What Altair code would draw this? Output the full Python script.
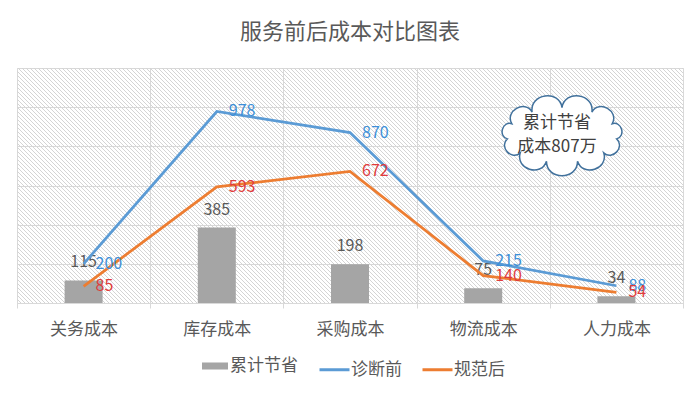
import altair as alt
import pandas as pd
import numpy as np

# ---- data ----
categories = ["关务成本", "库存成本", "采购成本", "物流成本", "人力成本"]
saved = [115, 385, 198, 75, 34]        # 累计节省
before = [200, 978, 870, 215, 88]      # 诊断前
after = [85, 593, 672, 140, 54]        # 规范后
note_lines = ["累计节省", "成本807万"]

FONT = "Noto Sans CJK SC"
GRID = "#d9d9d9"
TXT = "#595959"
W, H = 666, 235

bar_df = pd.DataFrame({"cat": categories, "value": saved, "series": "累计节省"})
before_df = pd.DataFrame({"cat": categories, "value": before, "series": "诊断前"})
after_df = pd.DataFrame({"cat": categories, "value": after, "series": "规范后"})
line_df = pd.concat([before_df, after_df], ignore_index=True)

x_enc = alt.X(
    "cat:N", sort=categories,
    scale=alt.Scale(paddingInner=0, paddingOuter=0),
    axis=alt.Axis(title=None, labelAngle=0, labelFontSize=17, labelColor=TXT,
                  labelFont=FONT, tickBand="extent", ticks=True, tickSize=5,
                  tickColor=GRID, domainColor=GRID, grid=True, gridColor=GRID,
                  labelPadding=13),
)
y_enc = alt.Y(
    "value:Q",
    scale=alt.Scale(domain=[0, 1200], nice=False),
    axis=alt.Axis(title=None, labels=False, ticks=False, domain=False,
                  values=[0, 200, 400, 600, 800, 1000, 1200], gridColor=GRID),
)

LEG_Y = 285
bars = alt.Chart(bar_df).mark_bar(size=38).encode(
    x=x_enc, y=y_enc,
    color=alt.Color("series:N",
                    scale=alt.Scale(domain=["累计节省"], range=["#a5a5a5"]),
                    legend=alt.Legend(title=None, orient="none", legendX=185, legendY=LEG_Y,
                                      symbolType="M-1,-0.27H1V0.27H-1Z", symbolSize=676,
                                      symbolStrokeWidth=0, labelFontSize=17, labelFont=FONT,
                                      labelColor=TXT, labelOffset=2, padding=0)),
)
bar_text = alt.Chart(bar_df).mark_text(dy=-13, baseline="alphabetic", fontSize=16,
                                       color=TXT, font=FONT).encode(
    x=x_enc, y=y_enc, text="value:Q")

lines = alt.Chart(line_df).mark_line(strokeWidth=2.75).encode(
    x=x_enc, y=y_enc,
    color=alt.Color("series:N",
                    scale=alt.Scale(domain=["诊断前", "规范后"], range=["#5b9bd5", "#ed7d31"]),
                    legend=alt.Legend(title=None, orient="none", legendX=301, legendY=LEG_Y,
                                      direction="horizontal", symbolType="stroke",
                                      symbolSize=900, symbolStrokeWidth=3, columnPadding=14,
                                      labelFontSize=17, labelFont=FONT, labelColor=TXT,
                                      labelOffset=0, padding=0)),
)
before_text = alt.Chart(before_df).mark_text(align="left", dx=12, baseline="middle",
                                             fontSize=16, color="#3d8fd8", font=FONT).encode(
    x=x_enc, y=y_enc, text="value:Q")
after_text = alt.Chart(after_df).mark_text(align="left", dx=12, baseline="middle",
                                           fontSize=16, color="#e03c3c", font=FONT).encode(
    x=x_enc, y=y_enc, text="value:Q")

# ---- cloud callout shape (decorative path) ----
n = 11
ang = np.linspace(0, 2 * np.pi, n, endpoint=False) - np.pi / 2
px = 0.85 * np.cos(ang)
py = 0.42 * np.sin(ang)
parts = [f"M{px[0]:.3f},{py[0]:.3f}"]
for i in range(n):
    x1, y1 = px[i], py[i]
    x2, y2 = px[(i + 1) % n], py[(i + 1) % n]
    dx, dy = x2 - x1, y2 - y1
    L = np.hypot(dx, dy)
    nx, ny = dy / L, -dx / L
    mx, my = (x1 + x2) / 2, (y1 + y2) / 2
    if nx * mx + ny * my < 0:
        nx, ny = -nx, -ny
    k = 0.62 * L
    parts.append(f"C{x1 + nx * k:.3f},{y1 + ny * k:.3f} {x2 + nx * k:.3f},{y2 + ny * k:.3f} {x2:.3f},{y2:.3f}")
cloud_path = "".join(parts) + "Z"

one = pd.DataFrame({"k": [0]})
cloud = alt.Chart(one).mark_point(shape=cloud_path, size=16900, filled=True, fill="white",
                                  stroke="#41719c", strokeWidth=1.5, opacity=1).encode(
    x=alt.value(545), y=alt.value(67))
note = alt.Chart(one).mark_text(text=note_lines, fontSize=17, color="#404040",
                                lineHeight=24, font=FONT, baseline="middle").encode(
    x=alt.value(540), y=alt.value(55))

# ---- hatch background (decorative) ----
offs = np.arange(-H, W, 4)
hatch_df = pd.DataFrame({"a": offs, "b": offs + H, "t": 0, "u": H})
hatch = alt.Chart(hatch_df).mark_rule(clip=True, color="#d4d4d4", strokeWidth=1).encode(
    x=alt.X("a:Q", scale=None, axis=None), x2="b:Q",
    y=alt.Y("t:Q", scale=None, axis=None), y2="u:Q")

main = alt.layer(bars, bar_text, lines, before_text, after_text, cloud, note).resolve_scale(
    color="independent")

chart = alt.layer(hatch, main).resolve_scale(x="independent", y="independent").properties(
    width=W, height=H,
    padding={"left": 9, "top": 60, "right": 9, "bottom": 83},
    autosize="none",
    title=alt.TitleParams("服务前后成本对比图表", fontSize=22, color=TXT, font=FONT,
                          fontWeight="normal", offset=24, anchor="middle"),
).configure_view(stroke=GRID, fill="white").configure(background="white")

chart.save("out.html", embed_options={"renderer": "svg", "actions": False})
